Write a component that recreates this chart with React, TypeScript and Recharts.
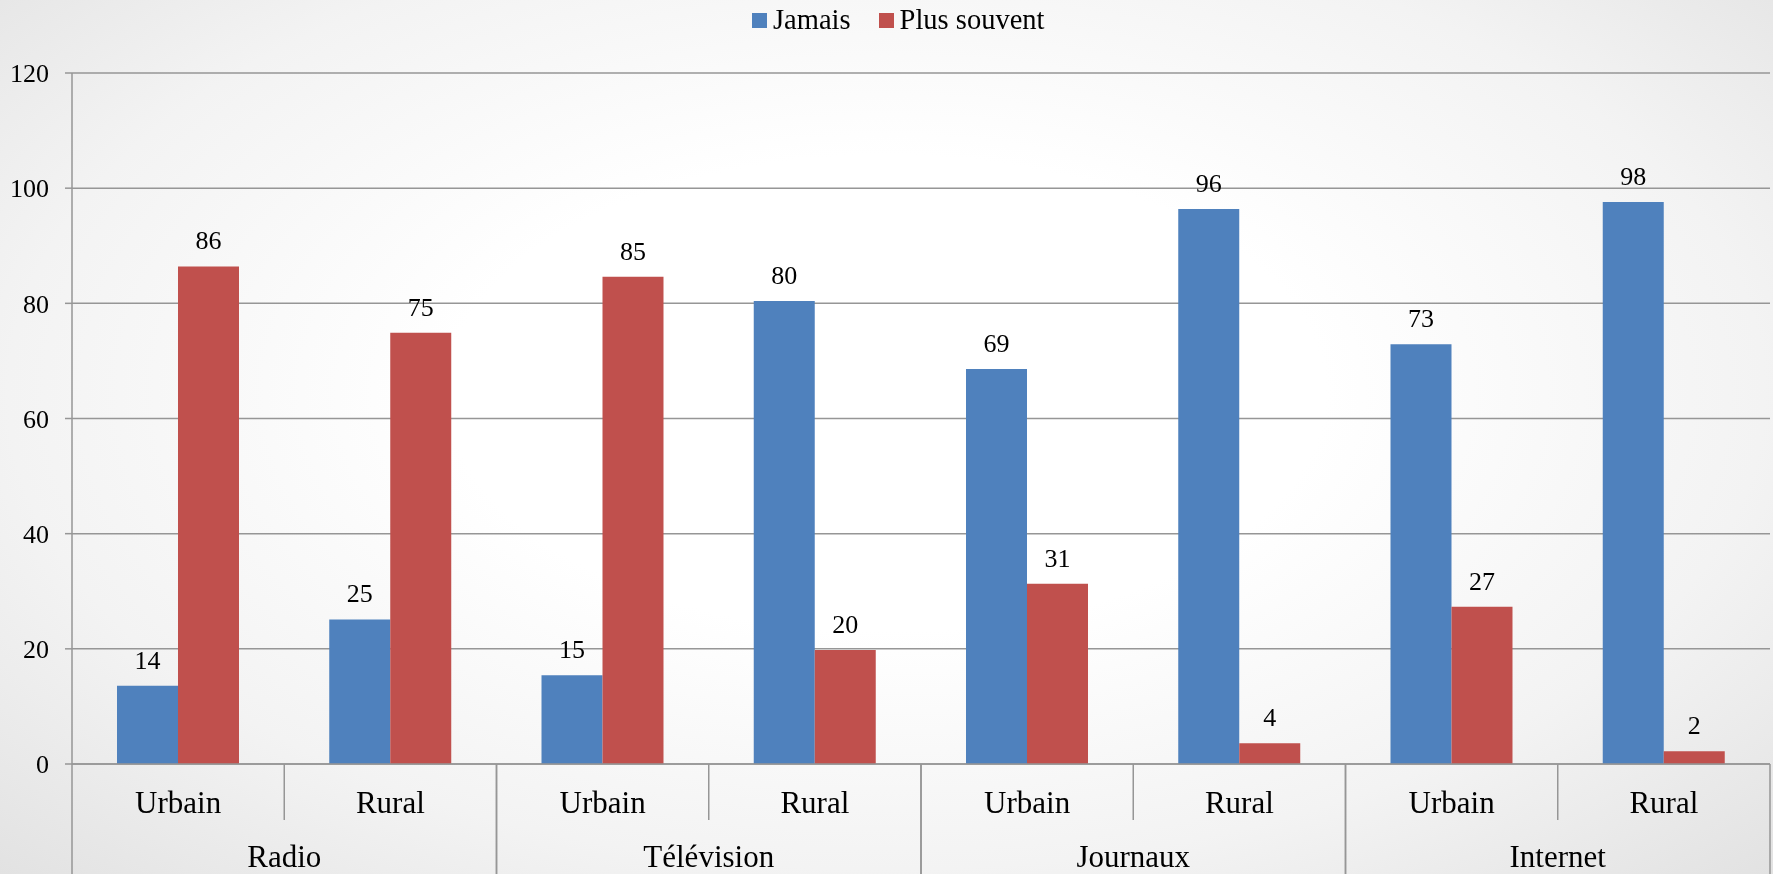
import React from 'react';
import { BarChart, Bar, XAxis, YAxis, CartesianGrid, Legend, LabelList } from 'recharts';

const groups = ['Radio', 'Radio', 'Télévision', 'Télévision', 'Journaux', 'Journaux', 'Internet', 'Internet'];
const zones = ['Urbain', 'Rural', 'Urbain', 'Rural', 'Urbain', 'Rural', 'Urbain', 'Rural'];
const jamais = [13.6, 25.1, 15.4, 80.4, 68.6, 96.4, 72.9, 97.6];
const plusSouvent = [86.4, 74.9, 84.6, 19.8, 31.3, 3.6, 27.3, 2.2];
const yTicks = [0, 20, 40, 60, 80, 100, 120];

const data = zones.map((z, i) => ({ zone: z, group: groups[i], jamais: jamais[i], plus: plusSouvent[i] }));

const FONT = 'Liberation Serif, Times New Roman, serif';
const GRID = '#969696';

const SubTick = (props: any) => {
  const { x, y, payload, index } = props;
  const off = payload && payload.offset != null ? payload.offset : 106;
  return (
    <g>
      <text x={x} y={y + 48.6} textAnchor="middle" fontFamily={FONT} fontSize={31} fill="#000">
        {payload.value}
      </text>
      {index % 2 === 0 ? (
        <line x1={x + off} x2={x + off} y1={y} y2={y + 56} stroke={GRID} strokeWidth={1.5} />
      ) : null}
    </g>
  );
};

const GroupTick = (props: any) => {
  const { x, y, payload } = props;
  const off = payload && payload.offset != null ? payload.offset : 212;
  return (
    <g>
      <text x={x} y={y + 46.8} textAnchor="middle" fontFamily={FONT} fontSize={31} fill="#000">
        {payload.value}
      </text>
      <line x1={x - off} x2={x - off} y1={y - 56} y2={y + 60} stroke={GRID} strokeWidth={1.5} />
      <line x1={x + off} x2={x + off} y1={y - 56} y2={y + 60} stroke={GRID} strokeWidth={1.5} />
    </g>
  );
};

const LegendContent = (props: any) => {
  const payload = props.payload || [];
  return (
    <div style={{ width: 1773, height: 40, position: 'relative' }}>
      <div style={{ position: 'absolute', left: 752, top: 0, display: 'flex', alignItems: 'center', height: 40 }}>
        {payload.map((p: any, i: number) => (
          <div key={i} style={{ display: 'flex', alignItems: 'center', marginRight: i === 0 ? 28 : 0 }}>
            <div style={{ width: 15, height: 15, background: p.color, marginRight: 6 }} />
            <span style={{ fontFamily: FONT, fontSize: 28.5, color: '#000', lineHeight: '40px' }}>{p.value}</span>
          </div>
        ))}
      </div>
    </div>
  );
};

const fmt = (v: any) => Math.round(Number(v)).toString();

export default function App() {
  return (
    <div
      style={{
        position: 'fixed',
        left: 0,
        top: 0,
        width: 1773,
        height: 874,
        background: 'radial-gradient(ellipse at 50% 45%, #ffffff 35%, #f3f3f3 70%, #e2e2e2 100%)',
        overflow: 'hidden',
      }}
    >
      <BarChart
        width={1773}
        height={874}
        data={data}
        margin={{ top: 33, right: 3, bottom: 0, left: 0 }}
        barCategoryGap="21.2%"
        barGap={0}
      >
        <CartesianGrid horizontal vertical={false} stroke={GRID} strokeWidth={1.5} />
        <Legend
          verticalAlign="top"
          align="left"
          height={40}
          wrapperStyle={{ top: 0, left: 0, width: 1773, height: 40 }}
          content={<LegendContent />}
        />
        <XAxis
          dataKey="zone"
          interval={0}
          height={56}
          tickSize={0}
          tickMargin={0}
          tickLine={false}
          axisLine={{ stroke: GRID, strokeWidth: 1.5 }}
          tick={<SubTick />}
        />
        <XAxis
          xAxisId="g"
          dataKey="group"
          allowDuplicatedCategory={false}
          interval={0}
          height={54}
          tickSize={0}
          tickMargin={0}
          tickLine={false}
          axisLine={false}
          tick={<GroupTick />}
        />
        <YAxis
          width={72}
          domain={[0, 120]}
          ticks={yTicks}
          interval={0}
          tickSize={7}
          tickMargin={16}
          axisLine={{ stroke: GRID, strokeWidth: 1.5 }}
          tickLine={{ stroke: GRID, strokeWidth: 1.5 }}
          tick={{ fontFamily: FONT, fontSize: 26, fill: '#000' }}
        />
        <Bar dataKey="jamais" name="Jamais" fill="#4F81BD" isAnimationActive={false}>
          <LabelList dataKey="jamais" position="top" offset={17} formatter={fmt} style={{ fontFamily: FONT, fontSize: 26, fill: '#000' }} />
        </Bar>
        <Bar dataKey="plus" name="Plus souvent" fill="#C0504D" isAnimationActive={false}>
          <LabelList dataKey="plus" position="top" offset={17} formatter={fmt} style={{ fontFamily: FONT, fontSize: 26, fill: '#000' }} />
        </Bar>
      </BarChart>
    </div>
  );
}
